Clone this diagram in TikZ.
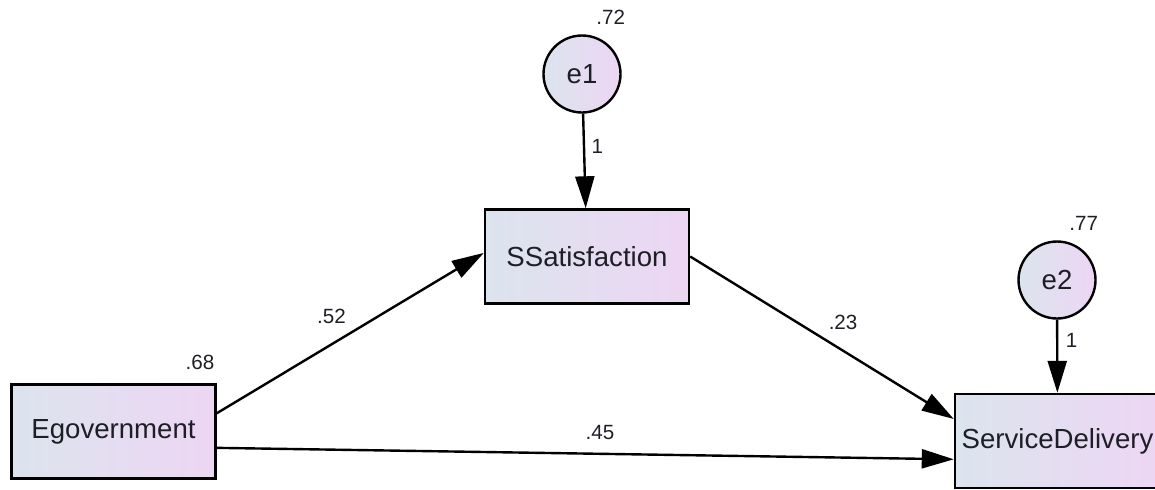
\documentclass[tikz,border=0pt]{standalone}
\usepackage{fontspec}
\setmainfont{Liberation Sans}
\usepackage{tikz}
\usetikzlibrary{shapes.geometric, arrows.meta, positioning}
\definecolor{fill_left}{RGB}{220,228,238}
\definecolor{fill_right}{RGB}{237,214,243}
\definecolor{ink}{RGB}{30,30,38}
\tikzset{
  observed_var/.style={rectangle, draw=black, line width=1.2pt, left color=fill_left, right color=fill_right, minimum width=102pt, minimum height=47pt, font=\fontsize{13.8}{16}\selectfont, text=ink},
  error_var/.style={circle, draw=black, line width=1.2pt, left color=fill_left, right color=fill_right, minimum size=38.5pt, inner sep=0pt, font=\fontsize{13.8}{16}\selectfont, text=ink},
  path_arrow/.style={-{Triangle[length=16pt, width=9.5pt]}, line width=1.2pt, black},
  coef_label/.style={inner sep=0pt, font=\fontsize{10.3}{12}\selectfont, text=ink},
  var_label/.style={inner sep=0pt, font=\fontsize{10.3}{12}\selectfont, text=ink}
}

\begin{document}
\begin{tikzpicture}[x=0.5pt, y=-0.5pt]
  \useasboundingbox (0,0) rectangle (1155,489);

  % variables
  \node[observed_var](egov) at (113.5,431.5) {Egovernment};
  \node[observed_var](ssat) at (587,256.5) {SSatisfaction};
  \node[observed_var](sdel) at (1057.5,441) {ServiceDelivery};
  \node[error_var](e1) at (582,74) {e1};
  \node[error_var](e2) at (1057,280) {e2};

  % variances
  \node[var_label, above right=4.5pt and 7pt of e1.north](v_e1) {.72};
  \node[var_label, above right=4.5pt and 6pt of e2.north](v_e2) {.77};
  \node[var_label, above left=6.5pt and 1pt of egov.north east](v_egov) {.68};

  % paths
  \draw[path_arrow] (e1) -- node[coef_label, pos=0.35, right=3.2pt] {1} (ssat);
  \draw[path_arrow] (e2) -- node[coef_label, pos=0.29, right=3.7pt] {1} (sdel);
  \draw[path_arrow] (egov.10) -- node[coef_label, pos=0.43, above=9.5pt] {.52} (ssat.178);
  \draw[path_arrow] (ssat.east) -- node[coef_label, pos=0.58, above=10pt] {.23} (sdel.168);
  \draw[path_arrow] (egov.-9) -- node[coef_label, pos=0.52, above=6.5pt] {.45} (sdel.190);

\end{tikzpicture}
\end{document}
